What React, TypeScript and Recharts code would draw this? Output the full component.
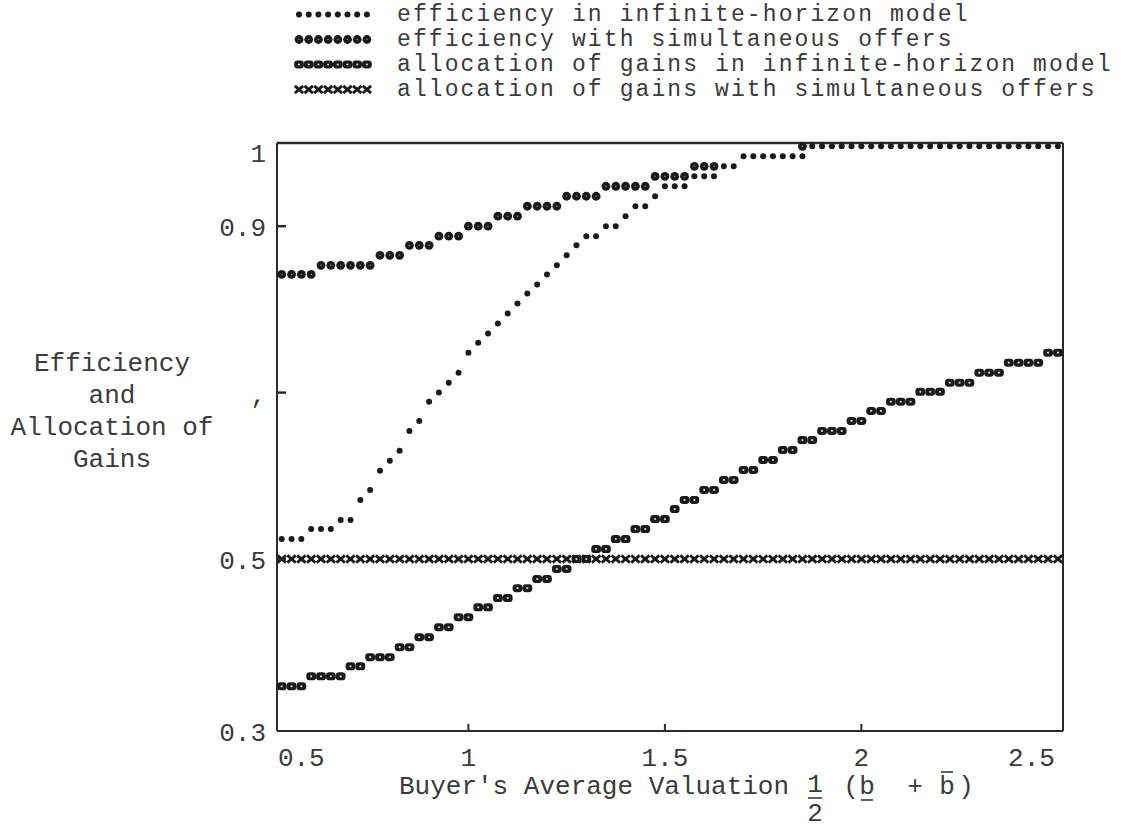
import React from 'react';
import { ScatterChart, Scatter, XAxis, YAxis, Legend, Label } from 'recharts';

// ---------- data ----------
const xValues = [
  0.525, 0.55, 0.575, 0.6, 0.625, 0.65, 0.675, 0.7, 0.725, 0.75,
  0.775, 0.8, 0.825, 0.85, 0.875, 0.9, 0.925, 0.95, 0.975, 1,
  1.025, 1.05, 1.075, 1.1, 1.125, 1.15, 1.175, 1.2, 1.225, 1.25,
  1.275, 1.3, 1.325, 1.35, 1.375, 1.4, 1.425, 1.45, 1.475, 1.5,
  1.525, 1.55, 1.575, 1.6, 1.625, 1.65, 1.675, 1.7, 1.725, 1.75,
  1.775, 1.8, 1.825, 1.85, 1.875, 1.9, 1.925, 1.95, 1.975, 2,
  2.025, 2.05, 2.075, 2.1, 2.125, 2.15, 2.175, 2.2, 2.225, 2.25,
  2.275, 2.3, 2.325, 2.35, 2.375, 2.4, 2.425, 2.45, 2.475, 2.5,
];

const effInfinite = [
  0.524, 0.524, 0.524, 0.536, 0.536, 0.536, 0.547, 0.547, 0.571, 0.583,
  0.606, 0.618, 0.630, 0.654, 0.666, 0.689, 0.700, 0.712, 0.724, 0.748,
  0.760, 0.771, 0.783, 0.795, 0.807, 0.819, 0.830, 0.842, 0.853, 0.865,
  0.877, 0.888, 0.888, 0.900, 0.900, 0.912, 0.924, 0.924, 0.936, 0.948,
  0.948, 0.948, 0.960, 0.960, 0.960, 0.972, 0.972, 0.984, 0.984, 0.984,
  0.984, 0.984, 0.984, 0.984, 0.996, 0.996, 0.996, 0.996, 0.996, 0.996,
  0.996, 0.996, 0.996, 0.996, 0.996, 0.996, 0.996, 0.996, 0.996, 0.996,
  0.996, 0.996, 0.996, 0.996, 0.996, 0.996, 0.996, 0.996, 0.996, 0.996,
];

const effSimultaneous = [
  0.842, 0.842, 0.842, 0.842, 0.853, 0.853, 0.853, 0.853, 0.853, 0.853,
  0.865, 0.865, 0.865, 0.877, 0.877, 0.877, 0.888, 0.888, 0.888, 0.900,
  0.900, 0.900, 0.912, 0.912, 0.912, 0.924, 0.924, 0.924, 0.924, 0.936,
  0.936, 0.936, 0.936, 0.948, 0.948, 0.948, 0.948, 0.948, 0.960, 0.960,
  0.960, 0.960, 0.972, 0.972, 0.972, 0.972, 0.972, 0.984, 0.984, 0.984,
  0.984, 0.984, 0.984, 0.996, 0.996, 0.996, 0.996, 0.996, 0.996, 0.996,
  0.996, 0.996, 0.996, 0.996, 0.996, 0.996, 0.996, 0.996, 0.996, 0.996,
  0.996, 0.996, 0.996, 0.996, 0.996, 0.996, 0.996, 0.996, 0.996, 0.996,
];

const allocInfinite = [
  0.347, 0.347, 0.347, 0.359, 0.359, 0.359, 0.359, 0.371, 0.371, 0.382,
  0.382, 0.382, 0.394, 0.394, 0.406, 0.406, 0.418, 0.418, 0.430, 0.430,
  0.442, 0.442, 0.453, 0.453, 0.465, 0.465, 0.476, 0.476, 0.488, 0.488,
  0.500, 0.500, 0.512, 0.512, 0.524, 0.524, 0.536, 0.536, 0.548, 0.548,
  0.560, 0.571, 0.571, 0.583, 0.583, 0.595, 0.595, 0.607, 0.607, 0.619,
  0.619, 0.631, 0.631, 0.643, 0.643, 0.654, 0.654, 0.654, 0.666, 0.666,
  0.678, 0.678, 0.689, 0.689, 0.689, 0.701, 0.701, 0.701, 0.712, 0.712,
  0.712, 0.724, 0.724, 0.724, 0.736, 0.736, 0.736, 0.736, 0.748, 0.748,
];

const allocSimultaneous = [
  0.5, 0.5, 0.5, 0.5, 0.5, 0.5, 0.5, 0.5, 0.5, 0.5,
  0.5, 0.5, 0.5, 0.5, 0.5, 0.5, 0.5, 0.5, 0.5, 0.5,
  0.5, 0.5, 0.5, 0.5, 0.5, 0.5, 0.5, 0.5, 0.5, 0.5,
  0.5, 0.5, 0.5, 0.5, 0.5, 0.5, 0.5, 0.5, 0.5, 0.5,
  0.5, 0.5, 0.5, 0.5, 0.5, 0.5, 0.5, 0.5, 0.5, 0.5,
  0.5, 0.5, 0.5, 0.5, 0.5, 0.5, 0.5, 0.5, 0.5, 0.5,
  0.5, 0.5, 0.5, 0.5, 0.5, 0.5, 0.5, 0.5, 0.5, 0.5,
  0.5, 0.5, 0.5, 0.5, 0.5, 0.5, 0.5, 0.5, 0.5, 0.5,
];

const xTicks = [0.5, 1, 1.5, 2, 2.5];
const xTickLabels = ['0.5', '1', '1.5', '2', '2.5'];
const yTicks = [0.3, 0.5, 0.7, 0.9, 1];
const yTickLabels = ['0.3', '0.5', ',', '0.9', '1'];

const seriesNames = [
  'efficiency in infinite-horizon model',
  'efficiency with simultaneous offers',
  'allocation of gains in infinite-horizon model',
  'allocation of gains with simultaneous offers',
];

const xTitle = "Buyer's Average Valuation";
const yTitleLines = ['Efficiency', 'and', 'Allocation of', 'Gains'];

// ---------- styling ----------
const FONT = "'Liberation Mono', 'DejaVu Sans Mono', monospace";
const INK = '#1a1a1a';
const TEXT = '#3a3a3a';
const FRAME = '#2a2a2a';
const FS = 26;
const X_DOMAIN: [number, number] = [0.513, 2.513];
const Y_DOMAIN: [number, number] = [0.2933, 1];
const TICK_SIZE = 8;
const TICK_MARGIN = 3;

type Kind = 'small' | 'big' | 'oo' | 'x';
const legendKinds: Kind[] = ['small', 'big', 'oo', 'x'];

function Marker({ kind, cx, cy }: { kind: Kind; cx: number; cy: number }) {
  if (cx == null || cy == null || isNaN(cx) || isNaN(cy)) return null;
  if (kind === 'small') return <circle cx={cx} cy={cy} r={3} fill={INK} />;
  if (kind === 'big')
    return (
      <g>
        <circle cx={cx} cy={cy} r={4.4} fill={INK} />
        <circle cx={cx} cy={cy} r={0.8} fill="#8a8a8a" />
      </g>
    );
  if (kind === 'oo')
    return (
      <g>
        <rect x={cx - 4.9} y={cy - 4} width={9.8} height={8} rx={3.4} fill={INK} />
        <circle cx={cx} cy={cy} r={1.1} fill="#cfcfcf" />
      </g>
    );
  return (
    <g stroke={INK} strokeWidth={2.8}>
      <line x1={cx - 4.2} y1={cy - 3.6} x2={cx + 4.2} y2={cy + 3.6} />
      <line x1={cx - 4.2} y1={cy + 3.6} x2={cx + 4.2} y2={cy - 3.6} />
    </g>
  );
}

const dataEffInf = xValues.map((x, i) => ({ x, y: effInfinite[i] }));
const dataEffSim = xValues.map((x, i) => ({ x, y: effSimultaneous[i], covered: effSimultaneous[i] === effInfinite[i] }));
const dataAllocInf = xValues.map((x, i) => ({ x, y: allocInfinite[i] }));
const dataAllocSim = xValues.map((x, i) => ({ x, y: allocSimultaneous[i] }));

const textStyle = { fontFamily: FONT, fontSize: FS, fill: TEXT } as const;
const legendTextStyle = { fontFamily: FONT, fontSize: 23, letterSpacing: 2.1, fill: TEXT } as const;

const XTick = (props: any) => {
  const { x, y, payload } = props;
  const v = payload.value;
  const idx = xTicks.indexOf(v);
  const axisY = y - TICK_SIZE - TICK_MARGIN;
  const first = idx === 0;
  const last = idx === xTicks.length - 1;
  const anchor = first ? 'start' : last ? 'end' : 'middle';
  const dx = first ? 6 : last ? -3 : 0;
  return (
    <g>
      {!first && !last && (
        <line x1={x} x2={x} y1={axisY} y2={axisY - 7} stroke={FRAME} strokeWidth={2} />
      )}
      <text x={x + dx} y={axisY + 26} dy="0.35em" textAnchor={anchor} {...textStyle}>
        {xTickLabels[idx]}
      </text>
    </g>
  );
};

const YTick = (props: any) => {
  const { x, y, payload } = props;
  const v = payload.value;
  const idx = yTicks.indexOf(v);
  const axisX = x + TICK_SIZE + TICK_MARGIN;
  const isTop = idx === yTicks.length - 1;
  const isBottom = idx === 0;
  const extra = isTop ? 10 : isBottom ? 6.5 : 1;
  return (
    <g>
      {!isTop && !isBottom && (
        <line x1={axisX} x2={axisX + 9} y1={y} y2={y} stroke={FRAME} strokeWidth={2.5} />
      )}
      <text x={x} y={y + extra} dy="0.35em" textAnchor="end" {...textStyle}>
        {yTickLabels[idx]}
      </text>
    </g>
  );
};

const XTitle = (props: any) => {
  const vb = props.viewBox || { x: 277, y: 731 };
  const bx = vb.x;
  const B = vb.y + 63; // common baseline
  return (
    <g>
      <text x={bx + 122} y={B} {...textStyle}>{xTitle}</text>
      <text x={bx + 538} y={B - 2} textAnchor="middle" {...textStyle}>1</text>
      <line x1={bx + 531} x2={bx + 545} y1={B + 4} y2={B + 4} stroke={TEXT} strokeWidth={1.6} />
      <text x={bx + 538} y={B + 27} textAnchor="middle" {...textStyle}>2</text>
      <text x={bx + 574} y={B} textAnchor="middle" {...textStyle}>(</text>
      <text x={bx + 590} y={B} textAnchor="middle" {...textStyle}>b</text>
      <line x1={bx + 584} x2={bx + 596} y1={B + 6} y2={B + 6} stroke={TEXT} strokeWidth={1.6} />
      <text x={bx + 638} y={B} textAnchor="middle" {...textStyle}>+</text>
      <text x={bx + 670} y={B} textAnchor="middle" {...textStyle}>b</text>
      <line x1={bx + 664} x2={bx + 676} y1={B - 22} y2={B - 22} stroke={TEXT} strokeWidth={1.6} />
      <text x={bx + 689} y={B} textAnchor="middle" {...textStyle}>)</text>
    </g>
  );
};

const YTitle = (props: any) => {
  const vb = props.viewBox || { x: 197, y: 143 };
  const cx = vb.x - 85;
  return (
    <g>
      {yTitleLines.map((t, i) => (
        <text key={i} x={cx} y={vb.y + 228 + i * 32} textAnchor="middle" {...textStyle}>
          {t}
        </text>
      ))}
    </g>
  );
};

const LegendContent = () => (
  <svg width={1128} height={110} style={{ display: 'block' }}>
    {seriesNames.map((name, r) => {
      const baseline = 21 + r * 25;
      const my = baseline - 6.5;
      return (
        <g key={r}>
          {[0, 1, 2, 3, 4, 5, 6, 7].map((k) => (
            <Marker key={k} kind={legendKinds[r]} cx={299 + k * 9.7} cy={my} />
          ))}
          <text x={397} y={baseline} {...legendTextStyle}>
            {name}
          </text>
        </g>
      );
    })}
  </svg>
);

const frameLine = { stroke: FRAME, strokeWidth: 2 };

export default function App() {
  return (
    <div style={{ position: 'absolute', left: 0, top: 0, width: 1128, height: 829, background: '#fff' }}>
      <ScatterChart width={1128} height={829} margin={{ top: 142, right: 64, bottom: 38, left: 197 }}>
        <XAxis
          xAxisId="b"
          type="number"
          dataKey="x"
          domain={X_DOMAIN}
          allowDataOverflow
          ticks={xTicks}
          interval={0}
          tick={<XTick />}
          tickLine={false}
          tickSize={TICK_SIZE}
          tickMargin={TICK_MARGIN}
          axisLine={frameLine}
          height={60}
        >
          <Label content={<XTitle />} />
        </XAxis>
        <XAxis
          xAxisId="t"
          orientation="top"
          type="number"
          domain={X_DOMAIN}
          allowDataOverflow
          tick={false}
          tickLine={false}
          axisLine={{ stroke: FRAME, strokeWidth: 2.5 }}
          height={1}
        />
        <YAxis
          yAxisId="l"
          type="number"
          dataKey="y"
          domain={Y_DOMAIN}
          allowDataOverflow
          ticks={yTicks}
          interval={0}
          tick={<YTick />}
          tickLine={false}
          tickSize={TICK_SIZE}
          tickMargin={TICK_MARGIN}
          axisLine={frameLine}
          width={80}
        >
          <Label content={<YTitle />} />
        </YAxis>
        <YAxis
          yAxisId="r"
          orientation="right"
          type="number"
          domain={Y_DOMAIN}
          allowDataOverflow
          tick={false}
          tickLine={false}
          axisLine={frameLine}
          width={1}
        />
        <Legend
          content={<LegendContent />}
          layout="vertical"
          align="center"
          verticalAlign="middle"
          wrapperStyle={{ top: 0, left: 0, width: 1128, height: 110 }}
        />
        <Scatter
          name={seriesNames[3]}
          xAxisId="b"
          yAxisId="l"
          data={dataAllocSim}
          isAnimationActive={false}
          shape={(p: any) => <Marker kind="x" cx={p.cx} cy={p.cy} />}
        />
        <Scatter
          name={seriesNames[2]}
          xAxisId="b"
          yAxisId="l"
          data={dataAllocInf}
          isAnimationActive={false}
          shape={(p: any) => <Marker kind="oo" cx={p.cx} cy={p.cy} />}
        />
        <Scatter
          name={seriesNames[1]}
          xAxisId="b"
          yAxisId="l"
          data={dataEffSim}
          isAnimationActive={false}
          shape={(p: any) =>
            p.payload && p.payload.covered ? <g /> : <Marker kind="big" cx={p.cx} cy={p.cy} />
          }
        />
        <Scatter
          name={seriesNames[0]}
          xAxisId="b"
          yAxisId="l"
          data={dataEffInf}
          isAnimationActive={false}
          shape={(p: any) => <Marker kind="small" cx={p.cx} cy={p.cy} />}
        />
      </ScatterChart>
    </div>
  );
}
